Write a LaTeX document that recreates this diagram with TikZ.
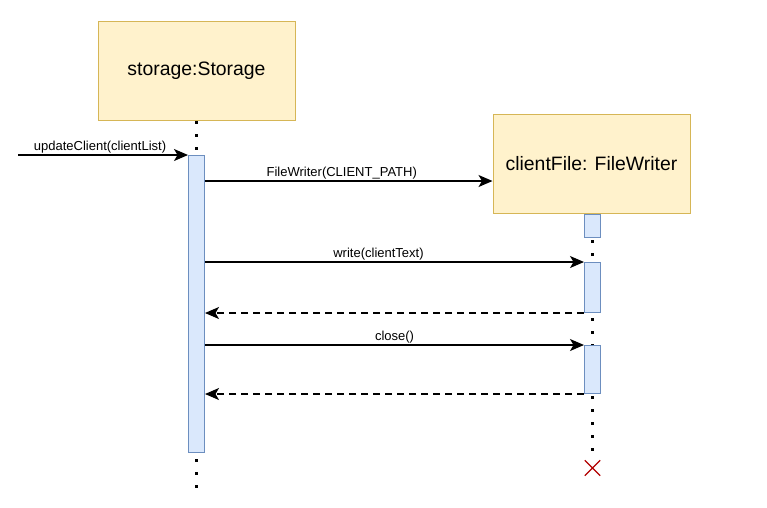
\documentclass[tikz,border=0pt]{standalone}
\usepackage{fontspec}
\setmainfont{Liberation Sans}
\usetikzlibrary{arrows.meta, positioning, calc, shapes.misc}
\definecolor{boxfill}{RGB}{255,242,204}
\definecolor{boxline}{RGB}{214,182,86}
\definecolor{actfill}{RGB}{218,232,252}
\definecolor{actline}{RGB}{108,142,191}
\definecolor{killred}{RGB}{178,0,0}

\begin{document}
\begin{tikzpicture}[x=1pt, y=-1pt,
    obj/.style={draw=boxline, fill=boxfill, line width=1pt, inner sep=0pt,
                minimum width=197pt, minimum height=99pt,
                font=\fontsize{19.4}{22}\selectfont},
    act/.style={draw=actline, fill=actfill, line width=1pt, inner sep=0pt,
                minimum width=16pt, anchor=north},
    life/.style={line width=2.8pt, dash pattern=on 2.8pt off 10.2pt},
    msg/.style={-{Stealth[length=14pt, width=12pt, inset=3.5pt]}, line width=1.2pt},
    ret/.style={msg, dash pattern=on 7pt off 5pt},
    lbl/.style={font=\fontsize{13}{15}\selectfont, inner sep=1pt, above}
]
\useasboundingbox (0,0) rectangle (767,507);

% oggetti
\node[obj] (storage) at (196.5,71) {storage:Storage};
\node[obj] (clientfile) at (591.5,164) {clientFile: FileWriter};
\node[cross out, draw=killred, line width=1.3pt, minimum size=14pt,
      inner sep=0pt] (kill) at (592.5,468) {};

% lifeline
\coordinate (sEnd) at (196.5,496);
\draw[life] (storage.south) -- (sEnd);
\draw[life] (clientfile.south -| kill) -- (kill.north);

% attivazioni
\node[act, minimum height=297pt] (actS) at (196.5,155) {};
\node[act, minimum height=23pt] (act1) at (clientfile.south -| kill) {};
\node[act, minimum height=50pt] (act2) at (592.5,262) {};
\node[act, minimum height=48pt] (act3) at (592.5,345) {};

% messaggi
\coordinate (start) at (18,155);
\draw[msg] (start) -- node[lbl, xshift=-3pt] {updateClient(clientList)} (actS.north west);
\draw[msg] (actS.east |- 0,181) -- node[lbl, xshift=-7pt] {FileWriter(CLIENT\_PATH)} (clientfile.west |- 0,181);
\draw[msg] (actS.east |- act2.north) -- node[lbl, xshift=-16pt] {write(clientText)} (act2.north west);
\draw[ret] (act2.south west) -- (actS.east |- act2.south);
\draw[msg] (actS.east |- act3.north) -- node[lbl] {close()} (act3.north west);
\draw[ret] (act3.south west) -- (actS.east |- act3.south);
\end{tikzpicture}
\end{document}
